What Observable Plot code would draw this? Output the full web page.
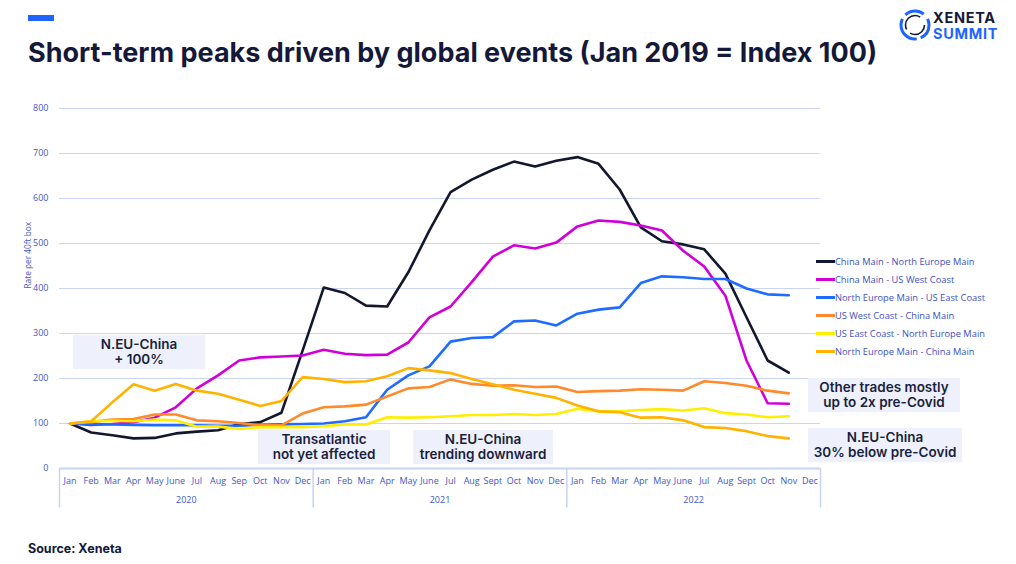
<!DOCTYPE html>
<html>
<head>
<meta charset="utf-8">
<script src="https://cdn.jsdelivr.net/npm/d3@7"></script>
<script src="https://cdn.jsdelivr.net/npm/@observablehq/plot@0.6"></script>
<style>
  html, body { margin: 0; padding: 0; background: #fff; }
  #page { position: relative; width: 1016px; height: 564px; overflow: hidden; font-family: Inter, "Open Sans", sans-serif; }
  #bar { position: absolute; left: 28px; top: 15px; width: 26px; height: 6px; background: #1f64ff; }
  #title { position: absolute; left: 28px; top: 36px; font-size: 27px; font-weight: 700; color: #14193a; white-space: nowrap; letter-spacing: 0px; }
  #chart { position: absolute; left: 0; top: 90px; }
  .legend { position: absolute; left: 816px; font-family: "Open Sans", sans-serif; font-size: 9.3px; color: #3d50c0; white-space: nowrap; }
  .legend .sw { display: inline-block; width: 19px; height: 3px; vertical-align: middle; margin-right: 0px; position: relative; top: -1px; }
  .note { position: absolute; background: #eef1fb; color: #1a1f3d; font-weight: 600; font-size: 13.5px; line-height: 15px; text-align: center; display: flex; align-items: center; justify-content: center; white-space: nowrap; }
  #source { position: absolute; left: 28px; top: 541px; font-size: 12.5px; font-weight: 700; color: #14193a; }
  #logo { position: absolute; left: 896px; top: 8px; }
  .logoText { position: absolute; left: 933px; font-weight: 700; font-size: 14.5px; line-height: 14px; letter-spacing: 0.7px; }
</style>
</head>
<body>
<div id="page">
  <div id="bar"></div>
  <div id="title">Short-term peaks driven by global events (Jan 2019 = Index 100)</div>
  <svg id="logo" width="36" height="34" viewBox="0 0 36 34">
    <circle cx="19" cy="17" r="14" fill="none" stroke="#1f64ff" stroke-width="3" stroke-dasharray="16 4 30 5 20 6"/>
    <circle cx="19" cy="17" r="9.5" fill="none" stroke="#14193a" stroke-width="1.6" stroke-dasharray="20 5 25 10"/>
  </svg>
  <div class="logoText" style="top:11px; color:#14193a">XENETA</div>
  <div class="logoText" style="top:27px; color:#1f64ff">SUMMIT</div>
  <div id="chart"></div>
  <div id="legend"></div>
  <div class="note" style="left:73px; top:335px; width:132px; height:34px;">N.EU-China<br>+ 100%</div>
  <div class="note" style="left:258px; top:430px; width:132px; height:34px;">Transatlantic<br>not yet affected</div>
  <div class="note" style="left:413px; top:430px; width:140px; height:34px;">N.EU-China<br>trending downward</div>
  <div class="note" style="left:808px; top:378px; width:152px; height:34px;">Other trades mostly<br>up to 2x pre-Covid</div>
  <div class="note" style="left:808px; top:428px; width:154px; height:34px;">N.EU-China<br>30% below pre-Covid</div>
  <div id="source">Source: Xeneta</div>
</div>
<script>
const years = ["2020", "2021", "2022"];
const months2020 = ["Jan","Feb","Mar","Apr","May","June","Jul","Aug","Sep","Oct","Nov","Dec"];
const months2021 = ["Jan","Feb","Mar","Apr","May","June","Jul","Aug","Sept","Oct","Nov","Dec"];
const months2022 = ["Jan","Feb","Mar","Apr","May","June","Jul","Aug","Sept","Oct","Nov","Dec"];
const yTicks = [0,100,200,300,400,500,600,700,800];

const seriesNames = [
  "China Main - North Europe Main",
  "China Main - US West Coast",
  "North Europe Main - US East Coast",
  "US West Coast - China Main",
  "US East Coast - North Europe Main",
  "North Europe Main - China Main"
];
const seriesColors = ["#12172e", "#d100d9", "#1f6bff", "#ff8a2b", "#ffee00", "#ffb300"];

const chinaNEurope = [100,80,74,67,68,78,82,85,99,103,124,262, 402,390,362,360,436,529,614,642,664,682,671,684, 692,677,620,536,505,498,487,433,336,240,213];
const chinaUSWC    = [100,97,99,103,113,136,178,207,240,247,249,251, 264,255,252,253,280,336,360,414,471,496,489,502, 538,551,548,540,529,484,449,384,240,145,144];
const nEuropeUSEC  = [100,99,98,97,96,96,96,95,95,97,98,99, 100,105,114,175,207,227,282,290,292,327,329,318, 344,353,358,412,427,425,421,421,400,387,385];
const uswcChina    = [100,103,109,110,120,120,107,105,101,96,96,122, 136,138,142,160,178,181,198,188,184,185,181,182, 170,172,173,176,175,173,194,190,184,173,167];
const usecNEurope  = [100,105,106,105,109,107,93,93,88,92,92,92, 94,98,98,114,113,114,116,119,119,121,119,121, 133,127,127,130,132,129,134,123,120,114,116];
const nEuropeChina = [100,105,147,187,173,188,173,166,153,139,150,203, 199,192,194,205,223,218,212,199,187,175,166,157, 140,127,125,113,114,107,92,90,83,72,67];

const allSeries = [chinaNEurope, chinaUSWC, nEuropeUSEC, uswcChina, usecNEurope, nEuropeChina];
const rows = [];
allSeries.forEach((vals, s) => vals.forEach((v, i) => rows.push({i, v, s: seriesNames[s]})));

const monthLabels = [...months2020, ...months2021, ...months2022].map((m, i) => ({i, m}));
const yearLabels = years.map((y, k) => ({i: k * 12 + 5.5, y}));
const separators = [0, 12, 24, 36].map(k => k - 0.5);

const axisColor = "#4356c4";
const gridColor = "#c9d3f2";

const chart = Plot.plot({
  width: 1016,
  height: 430,
  marginTop: 18,
  marginBottom: 52,
  marginLeft: 59,
  marginRight: 196,
  style: { fontFamily: "'Open Sans', sans-serif", background: "transparent" },
  x: { domain: [-0.5, 35.5], axis: null },
  y: { domain: [0, 800], axis: null },
  color: { domain: seriesNames, range: seriesColors },
  marks: [
    Plot.gridY(yTicks, { stroke: gridColor, strokeOpacity: 1, strokeWidth: 1.2 }),
    Plot.text(yTicks, { x: -0.5, y: d => d, text: d => String(d), textAnchor: "end", dx: -11, fill: axisColor, fontSize: 9 }),
    Plot.text(["Rate per 40ft box"], { frameAnchor: "left", rotate: -90, dx: -31, fill: axisColor, fontSize: 8.3 }),
    Plot.ruleX(separators, { y1: 0, y2: -88, stroke: gridColor, strokeWidth: 1.5 }),
    Plot.ruleY([0], { stroke: gridColor, strokeWidth: 2 }),
    Plot.text(monthLabels, { x: "i", y: 0, text: "m", dy: 13, fill: axisColor, fontSize: 9 }),
    Plot.text(yearLabels, { x: "i", y: 0, text: "y", dy: 32, fill: axisColor, fontSize: 9 }),
    Plot.line(rows, { x: "i", y: "v", z: "s", stroke: "s", strokeWidth: 2.6, strokeLinejoin: "round" })
  ]
});
document.getElementById("chart").appendChild(chart);

const legend = document.getElementById("legend");
seriesNames.forEach((n, k) => {
  const d = document.createElement("div");
  d.className = "legend";
  d.style.top = (255 + k * 18) + "px";
  d.innerHTML = `<span class="sw" style="background:${seriesColors[k]}"></span>${n}`;
  legend.appendChild(d);
});
</script>
</body>
</html>
